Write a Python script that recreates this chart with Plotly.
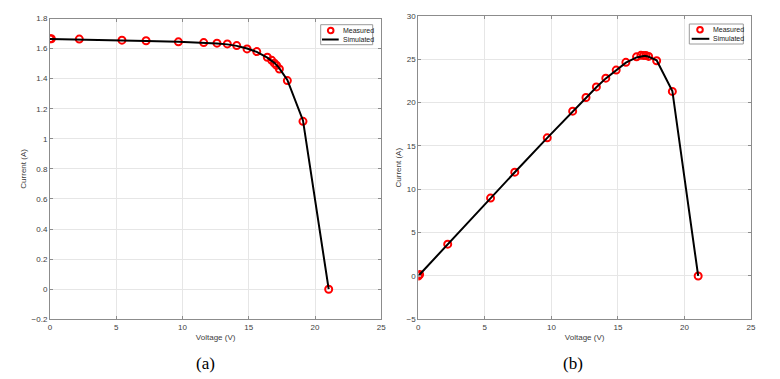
import plotly.graph_objects as go

# --- Data ---
# measured points, I-V curve
v_meas = [0.0, 0.1, 2.21, 5.43, 7.25, 9.69, 11.6, 12.6, 13.38, 14.09, 14.87,
          15.6, 16.4, 16.73, 16.93, 17.1, 17.31, 17.91, 19.09, 21.03]
i_meas = [1.665, 1.665, 1.663, 1.656, 1.652, 1.645, 1.640, 1.636, 1.631, 1.620,
          1.598, 1.580, 1.542, 1.522, 1.503, 1.488, 1.464, 1.387, 1.116, 0.0]
# measured points, P-V curve (right panel)
p_meas = [0.0, 0.17, 3.67, 8.99, 11.98, 15.94, 19.02, 20.6, 21.82, 22.83, 23.76,
          24.65, 25.29, 25.46, 25.45, 25.44, 25.34, 24.84, 21.3, 0.0]

# simulated curves
v_sim = [0.0, 2.21, 5.43, 7.25, 9.69, 11.6, 12.6, 13.38, 14.09, 14.87, 15.6,
         16.4, 16.73, 16.93, 17.1, 17.31, 17.91, 19.09, 21.03]
i_sim = [1.664, 1.661, 1.655, 1.651, 1.645, 1.639, 1.634, 1.628, 1.618, 1.600,
         1.578, 1.540, 1.521, 1.505, 1.490, 1.468, 1.392, 1.122, 0.0]
p_sim = [0.0, 3.67, 8.99, 11.97, 15.94, 19.01, 20.59, 21.78, 22.8, 23.79, 24.62,
         25.22, 25.35, 25.38, 25.37, 25.3, 24.88, 21.35, 0.0]

legend_labels = ['Measured', 'Simulated']
captions = ['(a)', '(b)']

# the page body adds an 8px margin, so lay out in a 772x371 figure
OFF = 8
W, H = 780 - OFF, 379 - OFF
GRID = '#e6e6e6'
AXLINE = '#8c8c8c'
TXT = '#404040'
SANS = 'Liberation Sans, Arial'
TICKFONT = dict(family=SANS, size=8, color=TXT)


def px_x(p):
    return (p - OFF) / W


def px_y(p):
    return 1 - (p - OFF) / H


fig = go.Figure()

marker_style = dict(symbol='circle-open', size=7, color='red', line=dict(width=2, color='red'))
line_style = dict(color='black', width=2)

# --- Left panel: I-V ---
fig.add_trace(go.Scatter(x=v_meas, y=i_meas, mode='markers', name=legend_labels[0],
                         marker=marker_style, xaxis='x', yaxis='y'))
fig.add_trace(go.Scatter(x=v_sim, y=i_sim, mode='lines', name=legend_labels[1],
                         line=line_style, xaxis='x', yaxis='y'))
# --- Right panel: P-V ---
fig.add_trace(go.Scatter(x=v_meas, y=p_meas, mode='markers', name=legend_labels[0],
                         marker=marker_style, xaxis='x2', yaxis='y2'))
fig.add_trace(go.Scatter(x=v_sim, y=p_sim, mode='lines', name=legend_labels[1],
                         line=line_style, xaxis='x2', yaxis='y2'))

axis_common = dict(
    showgrid=True, gridcolor=GRID, gridwidth=1,
    showline=True, linecolor=AXLINE, linewidth=1, mirror='ticks',
    ticks='inside', ticklen=3, tickcolor=AXLINE,
    zeroline=False, tickfont=TICKFONT, automargin=False,
)
title_font = dict(family=SANS, size=8, color=TXT)

# --- compact MATLAB-style legends drawn as shapes + text ---
shapes, annotations = [], []
for (bx0, bx1, by0, by1, mx, lx0, lx1, tx) in [
        (320.7, 372.7, 24.7, 44.7, 330.7, 322.0, 338.7, 340.5),
        (689.3, 743.3, 24.0, 44.0, 700.0, 691.7, 709.3, 710.5)]:
    shapes.append(dict(type='rect', xref='paper', yref='paper',
                       x0=px_x(bx0), x1=px_x(bx1), y0=px_y(by1), y1=px_y(by0),
                       line=dict(color='#9a9a9a', width=1), fillcolor='white', layer='above'))
    my = by0 + 5.8
    shapes.append(dict(type='circle', xref='paper', yref='paper',
                       x0=px_x(mx - 2.8), x1=px_x(mx + 2.8), y0=px_y(my + 2.8), y1=px_y(my - 2.8),
                       line=dict(color='red', width=2), layer='above'))
    ly = by0 + 14.8
    shapes.append(dict(type='line', xref='paper', yref='paper',
                       x0=px_x(lx0), x1=px_x(lx1), y0=px_y(ly), y1=px_y(ly),
                       line=dict(color='black', width=2), layer='above'))
    for lab, yy in zip(legend_labels, [my, ly]):
        annotations.append(dict(text=lab, xref='paper', yref='paper', x=px_x(tx), y=px_y(yy),
                                xanchor='left', yanchor='middle', showarrow=False,
                                font=dict(family=SANS, size=7, color='#222')))

for cap, cx in zip(captions, [205, 573]):
    annotations.append(dict(text=cap, x=px_x(cx), y=px_y(363), xref='paper', yref='paper',
                            xanchor='center', yanchor='middle', showarrow=False,
                            font=dict(family='Liberation Serif, Times New Roman', size=17, color='black')))

fig.update_layout(
    width=W, height=H,
    margin=dict(l=0, r=0, t=0, b=0),
    paper_bgcolor='white', plot_bgcolor='white',
    showlegend=False,
    xaxis=dict(domain=[px_x(50), px_x(381.3)], range=[0, 25], dtick=5,
               title=dict(text='Voltage (V)', font=title_font, standoff=3),
               anchor='y', **axis_common),
    yaxis=dict(domain=[px_y(319.3), px_y(18.5)], range=[-0.2, 1.8], dtick=0.2,
               title=dict(text='Current (A)', font=title_font, standoff=3),
               anchor='x', **axis_common),
    xaxis2=dict(domain=[px_x(418.3), px_x(751)], range=[0, 25], dtick=5,
                title=dict(text='Voltage (V)', font=title_font, standoff=3),
                anchor='y2', **axis_common),
    yaxis2=dict(domain=[px_y(319.3), px_y(16)], range=[-5, 30], dtick=5,
                title=dict(text='Current (A)', font=title_font, standoff=3),
                anchor='x2', **axis_common),
    shapes=shapes,
    annotations=annotations,
)

fig.write_html("out.html")
